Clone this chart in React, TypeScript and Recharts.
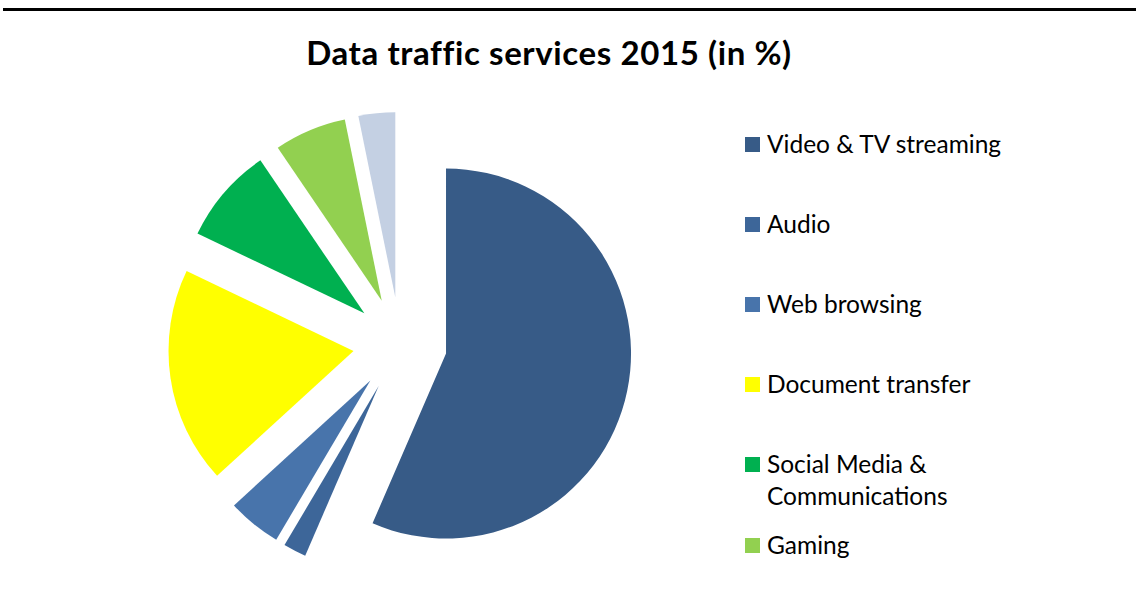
import React from 'react';
import { PieChart, Pie, Cell, Sector } from 'recharts';

const categories = [
  'Video & TV streaming',
  'Audio',
  'Web browsing',
  'Document transfer',
  'Social Media & Communications',
  'Gaming',
  'Other',
];
const legendLabels = [
  ['Video & TV streaming'],
  ['Audio'],
  ['Web browsing'],
  ['Document transfer'],
  ['Social Media &', 'Communications'],
  ['Gaming'],
];
const shares = [56.5, 2.0, 4.7, 18.9, 8.4, 6.3, 3.2];
const colors = ['#375B87', '#3D6699', '#4874AB', '#FFFF00', '#00B050', '#92D050', '#C4D0E3'];

const title = 'Data traffic services 2015 (in %)';
const EXPLODE = 47;
const FONT = 'Lato, "Open Sans", sans-serif';

const data = categories.map((name, i) => ({ name, value: shares[i] }));

const ExplodedSector = (props: any) => {
  const { cx, cy, midAngle, innerRadius, outerRadius, startAngle, endAngle, fill } = props;
  const rad = (-midAngle * Math.PI) / 180;
  const dx = EXPLODE * Math.cos(rad);
  const dy = EXPLODE * Math.sin(rad);
  return (
    <Sector
      cx={cx + dx}
      cy={cy + dy}
      innerRadius={innerRadius}
      outerRadius={outerRadius}
      startAngle={startAngle}
      endAngle={endAngle}
      fill={fill}
      stroke="none"
    />
  );
};

const LegendBlock = () => (
  <div
    style={{
      position: 'absolute',
      left: 745,
      top: 128,
      width: 320,
      height: 460,
      fontFamily: FONT,
      fontSize: 24.5,
      color: '#000',
    }}
  >
    {legendLabels.map((lines, i) => (
      <div
        key={i}
        style={{
          position: 'absolute',
          left: 0,
          top: i * 80 + (i === 5 ? 1 : 0),
          display: 'flex',
          alignItems: 'flex-start',
        }}
      >
        <div
          style={{
            width: 15,
            height: 15,
            background: colors[i],
            marginTop: 9,
            marginRight: 7,
            flexShrink: 0,
          }}
        />
        <div style={{ lineHeight: '32px', whiteSpace: 'nowrap' }}>
          {lines.map((l, j) => (
            <div key={j}>{l}</div>
          ))}
        </div>
      </div>
    ))}
  </div>
);

export default function App() {
  return (
    <div
      style={{
        position: 'absolute',
        left: 0,
        top: 0,
        width: 1136,
        height: 592,
        background: '#fff',
        overflow: 'hidden',
      }}
    >
      <div
        style={{
          position: 'absolute',
          left: 3,
          top: 8,
          width: 1133,
          height: 3,
          background: '#000',
        }}
      />
      <div
        style={{
          position: 'absolute',
          left: 0,
          width: 1098,
          top: 33,
          textAlign: 'center',
          fontFamily: FONT,
          fontWeight: 700,
          fontSize: 33,
          letterSpacing: 0.6,
          lineHeight: 1.2,
          color: '#000',
          whiteSpace: 'nowrap',
        }}
      >
        {title}
      </div>
      <PieChart
        width={1136}
        height={592}
        margin={{ top: 0, right: 0, bottom: 0, left: 0 }}
        style={{ position: 'absolute', left: 0, top: 0 }}
      >
        <Pie
          data={data}
          dataKey="value"
          nameKey="name"
          cx={400}
          cy={344}
          innerRadius={0}
          outerRadius={185}
          startAngle={90}
          endAngle={-270}
          stroke="none"
          isAnimationActive={false}
          shape={ExplodedSector}
          activeShape={ExplodedSector}
          inactiveShape={ExplodedSector}
        >
          {data.map((d, i) => (
            <Cell key={d.name} fill={colors[i]} />
          ))}
        </Pie>
      </PieChart>
      <LegendBlock />
    </div>
  );
}
